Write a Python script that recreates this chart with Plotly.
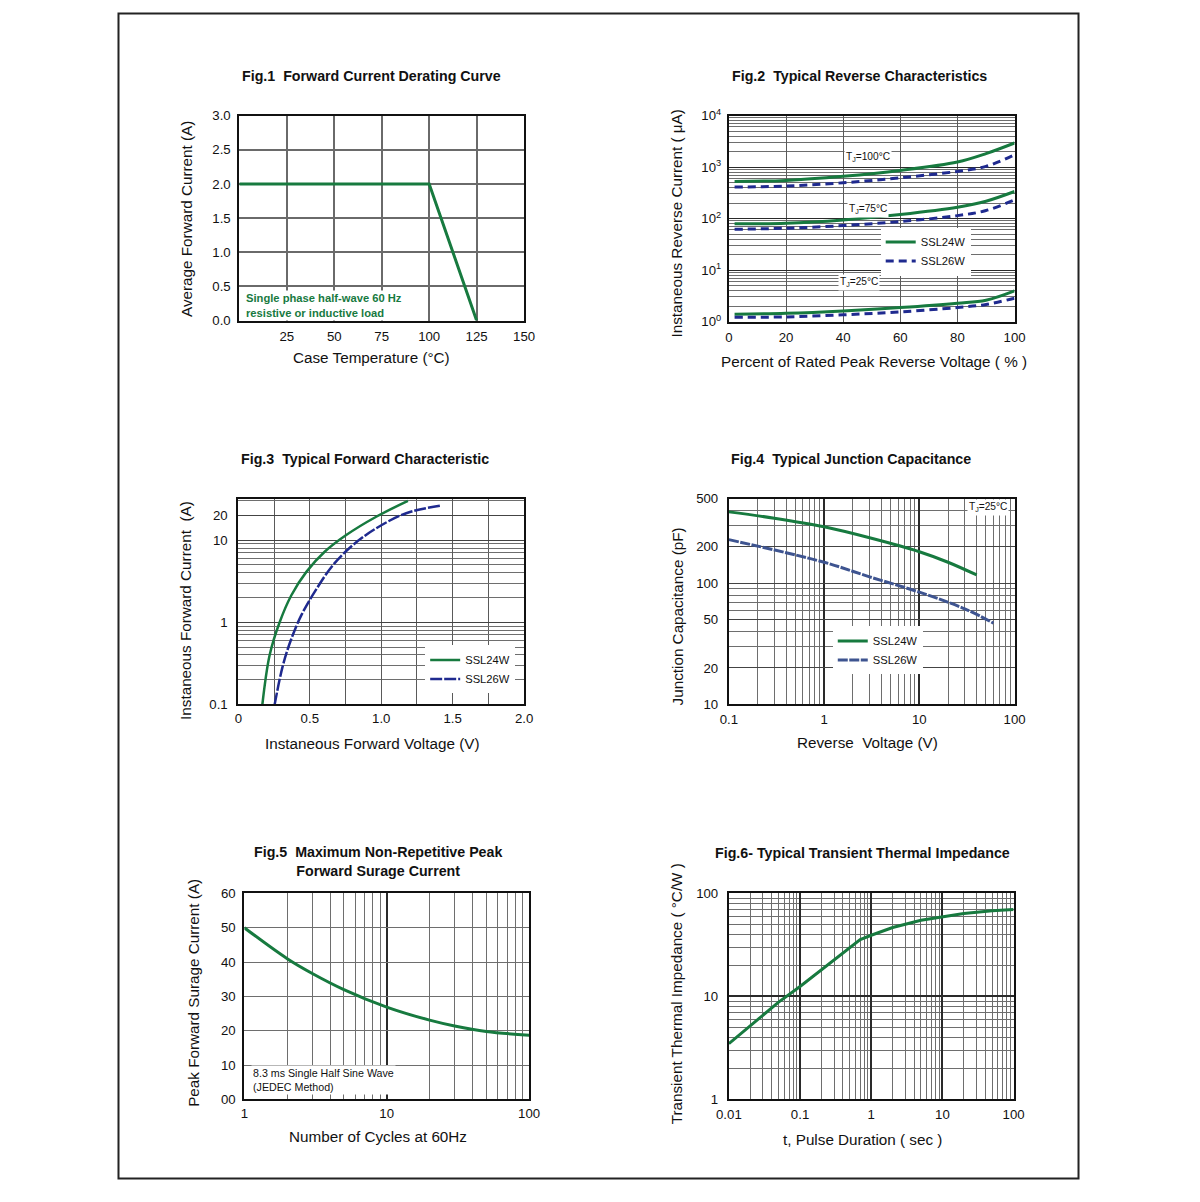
import plotly.graph_objects as go

FW, FH = 1200, 1202
# the photographed page comes out slightly shrunk about its centre; pre-compensate
SX, SY, CX, CY = 0.981, 0.986, 600.0, 601.0
K = 1 / 0.983  # size compensation for fonts

# ---------------- data ----------------
# Fig.1 Forward current derating
f1_temp = [0, 100, 125]
f1_current = [2.0, 2.0, 0.0]
f1_xticks = [25, 50, 75, 100, 125, 150]
f1_yticks = [0.0, 0.5, 1.0, 1.5, 2.0, 2.5, 3.0]

# Fig.2 Typical reverse characteristics (uA)
f2_pct = [2, 20, 40, 60, 80, 90, 100]
f2_24w_100 = [526, 550, 660, 860, 1250, 1820, 2930]
f2_26w_100 = [408, 427, 495, 620, 824, 1030, 1740]
f2_24w_75 = [79, 81, 94, 120, 166, 217, 335]
f2_26w_75 = [62, 65, 73, 87.5, 114, 143, 230]
f2_24w_25 = [1.39, 1.45, 1.61, 1.87, 2.27, 2.6, 3.95]
f2_26w_25 = [1.21, 1.23, 1.35, 1.54, 1.87, 2.14, 2.84]
f2_xticks = [0, 20, 40, 60, 80, 100]
f2_yticks = [1, 10, 100, 1000, 10000]
f2_yticktext = ["10<sup>0</sup>", "10<sup>1</sup>", "10<sup>2</sup>", "10<sup>3</sup>", "10<sup>4</sup>"]

# Fig.3 Typical forward characteristic
f3_v_24 = [0.168, 0.219, 0.289, 0.371, 0.476, 0.604, 0.755, 0.965, 1.187]
f3_i_24 = [0.1, 0.40, 1.0, 2.13, 4.1, 7.2, 11.5, 19.2, 29.9]
f3_v_26 = [0.254, 0.312, 0.371, 0.441, 0.534, 0.662, 0.802, 0.965, 1.175, 1.413]
f3_i_26 = [0.1, 0.30, 0.63, 1.22, 2.34, 4.95, 8.7, 13.9, 21.2, 26.2]
f3_xticks = [0, 0.5, 1.0, 1.5, 2.0]
f3_xticktext = ["0", "0.5", "1.0", "1.5", "2.0"]
f3_yticks = [0.1, 1, 10, 20]

# Fig.4 Typical junction capacitance
f4_v_24 = [0.1, 0.3, 1, 3, 10, 20, 40]
f4_c_24 = [388, 344, 292, 237, 182, 149, 117]
f4_v_26 = [0.1, 1, 3, 10, 30, 60]
f4_c_26 = [229, 149, 113, 84.4, 61.5, 46.9]
f4_xticks = [0.1, 1, 10, 100]
f4_yticks = [10, 20, 50, 100, 200, 500]

# Fig.5 Maximum non-repetitive peak forward surge current
f5_cycles = [1, 2, 3, 5, 10, 20, 30, 50, 100]
f5_current = [50, 41, 36.7, 32, 26.9, 23.1, 21.4, 19.8, 18.7]
f5_xticks = [1, 10, 100]
f5_yticks = [0, 10, 20, 30, 40, 50, 60]
f5_yticktext = ["00", "10", "20", "30", "40", "50", "60"]

# Fig.6 Typical transient thermal impedance
f6_t = [0.01, 0.02, 0.05, 0.1, 0.2, 0.5, 0.7, 1, 2, 5, 10, 20, 50, 100]
f6_z = [3.48, 5.15, 8.8, 12.5, 18.3, 30.0, 35.7, 39.3, 46.7, 55, 59.3, 63.9, 67.8, 69.9]
f6_xticks = [0.01, 0.1, 1, 10, 100]
f6_xticktext = ["0.01", "0.1", "1", "10", "100"]
f6_yticks = [1, 10, 100]

# ---------------- style ----------------
FONT = "Arial, Liberation Sans, sans-serif"
GREEN = "#177a3f"
BLUE = "#1f2a8f"
BLUE4 = "#3e5490"
MAJ = "#2a2a2a"
MIN = "#6e6e6e"


def fx(px):
    return (CX + (px - CX) / SX) / FW


def fy(py):
    return 1 - (CY + (py - CY) / SY) / FH


def px_x(a, b):
    return [fx(a), fx(b)]


def px_y(top, bottom):
    return [fy(bottom), fy(top)]


def fs(v):
    return round(v * K, 2)


def log_minor(e0, e1, extra=()):
    vals = [m * 10 ** e for e in range(e0, e1) for m in range(2, 10)]
    return vals + list(extra)


fig = go.Figure()

# Fig 1
fig.add_trace(go.Scatter(x=f1_temp, y=f1_current, mode="lines",
                         line=dict(color=GREEN, width=3), showlegend=False,
                         xaxis="x", yaxis="y"))
# Fig 2
for ys, col, dash, name, show in [
    (f2_24w_100, GREEN, "solid", "SSL24W", True),
    (f2_26w_100, BLUE, "8px,5px", "SSL26W", True),
    (f2_24w_75, GREEN, "solid", "SSL24W", False),
    (f2_26w_75, BLUE, "8px,5px", "SSL26W", False),
    (f2_24w_25, GREEN, "solid", "SSL24W", False),
    (f2_26w_25, BLUE, "8px,5px", "SSL26W", False),
]:
    fig.add_trace(go.Scatter(x=f2_pct, y=ys, mode="lines", name=name,
                             line=dict(color=col, width=3, dash=dash, shape="spline"),
                             showlegend=show, legend="legend",
                             xaxis="x2", yaxis="y2"))
# Fig 3
fig.add_trace(go.Scatter(x=f3_v_24, y=f3_i_24, mode="lines", name="SSL24W",
                         line=dict(color=GREEN, width=2.5, shape="spline"),
                         legend="legend2", xaxis="x3", yaxis="y3"))
fig.add_trace(go.Scatter(x=f3_v_26, y=f3_i_26, mode="lines", name="SSL26W",
                         line=dict(color=BLUE, width=2.5, dash="12px,2px", shape="spline"),
                         legend="legend2", xaxis="x3", yaxis="y3"))
# Fig 4
fig.add_trace(go.Scatter(x=f4_v_24, y=f4_c_24, mode="lines", name="SSL24W",
                         line=dict(color=GREEN, width=3, shape="spline"),
                         legend="legend3", xaxis="x4", yaxis="y4"))
fig.add_trace(go.Scatter(x=f4_v_26, y=f4_c_26, mode="lines", name="SSL26W",
                         line=dict(color=BLUE4, width=3, dash="10px,1.5px", shape="spline"),
                         legend="legend3", xaxis="x4", yaxis="y4"))
# Fig 5
fig.add_trace(go.Scatter(x=f5_cycles, y=f5_current, mode="lines",
                         line=dict(color=GREEN, width=3, shape="spline"), showlegend=False,
                         xaxis="x5", yaxis="y5"))
# Fig 6
fig.add_trace(go.Scatter(x=f6_t, y=f6_z, mode="lines",
                         line=dict(color=GREEN, width=3), showlegend=False,
                         xaxis="x6", yaxis="y6"))

tickfont = dict(family=FONT, size=fs(13), color="#111")


def ax(domain, anchor, **kw):
    d = dict(domain=domain, anchor=anchor, showline=True, mirror=True,
             linecolor="#111", linewidth=2, ticks="", zeroline=False,
             tickfont=tickfont, showgrid=True, gridwidth=1.3)
    d.update(kw)
    return d


layout = dict(
    width=FW, height=FH, margin=dict(l=0, r=0, t=0, b=0),
    paper_bgcolor="white", plot_bgcolor="white",
    font=dict(family=FONT, color="#111"),
)

# Fig1 axes
layout["xaxis"] = ax(px_x(238, 523), "y", range=[0, 150], tickmode="array",
                     tickvals=f1_xticks, gridcolor="#6a6a6a", gridwidth=1.6,
                     ticklabelstandoff=3)
layout["yaxis"] = ax(px_y(115, 320), "x", range=[0, 3], tickmode="array",
                     tickvals=f1_yticks, tickformat=".1f", gridcolor="#6a6a6a",
                     gridwidth=1.6, ticklabelstandoff=4)
# Fig2
layout["xaxis2"] = ax(px_x(728, 1014), "y2", range=[0, 100], tickmode="array",
                      tickvals=f2_xticks, gridcolor="#5a5a5a", gridwidth=1.4,
                      ticklabelstandoff=3)
layout["yaxis2"] = ax(px_y(115, 321), "x2", type="log", range=[0, 4], tickmode="array",
                      tickvals=f2_yticks, ticktext=f2_yticktext, gridcolor=MAJ,
                      ticklabelstandoff=3,
                      minor=dict(tickmode="array", tickvals=log_minor(0, 4),
                                 showgrid=True, gridcolor=MIN, gridwidth=1))
# Fig3
layout["xaxis3"] = ax(px_x(237, 523), "y3", range=[0, 2], tickmode="array",
                      tickvals=f3_xticks, ticktext=f3_xticktext,
                      gridcolor="#5a5a5a", gridwidth=1.4, ticklabelstandoff=1,
                      minor=dict(tickmode="array", tickvals=[0.25, 0.75, 1.25, 1.75],
                                 showgrid=True, gridcolor="#5a5a5a", gridwidth=1.4))
layout["yaxis3"] = ax(px_y(498, 704), "x3", type="log", range=[-1, 1.505], tickmode="array",
                      tickvals=f3_yticks, ticktext=["0.1", "1", "10", "20"],
                      gridcolor="#444", ticklabelstandoff=6,
                      minor=dict(tickmode="array", tickvals=log_minor(-1, 1, [30]),
                                 showgrid=True, gridcolor=MIN, gridwidth=1))
# Fig4
layout["xaxis4"] = ax(px_x(728, 1014), "y4", type="log", range=[-1, 2], tickmode="array",
                      tickvals=f4_xticks, ticktext=["0.1", "1", "10", "100"],
                      gridcolor=MAJ, gridwidth=1.6, ticklabelstandoff=2,
                      minor=dict(tickmode="array", tickvals=log_minor(-1, 2),
                                 showgrid=True, gridcolor=MIN, gridwidth=1))
layout["yaxis4"] = ax(px_y(498, 704), "x4", type="log", range=[1, 2.699], tickmode="array",
                      tickvals=f4_yticks, ticktext=[str(v) for v in f4_yticks],
                      gridcolor="#444", ticklabelstandoff=6,
                      minor=dict(tickmode="array", tickvals=[30, 40, 60, 70, 80, 90, 300, 400],
                                 showgrid=True, gridcolor=MIN, gridwidth=1))
# Fig5
layout["xaxis5"] = ax(px_x(243, 528), "y5", type="log", range=[0, 2], tickmode="array",
                      tickvals=f5_xticks, ticktext=["1", "10", "100"],
                      gridcolor=MAJ, gridwidth=1.6, ticklabelstandoff=1,
                      minor=dict(tickmode="array", tickvals=log_minor(0, 2),
                                 showgrid=True, gridcolor=MIN, gridwidth=1))
layout["yaxis5"] = ax(px_y(893, 1099), "x5", range=[0, 60], tickmode="array",
                      tickvals=f5_yticks, ticktext=f5_yticktext, gridcolor=MIN,
                      gridwidth=1.2, ticklabelstandoff=4)
# Fig6
layout["xaxis6"] = ax(px_x(728, 1013), "y6", type="log", range=[-2, 2], tickmode="array",
                      tickvals=f6_xticks, ticktext=f6_xticktext,
                      gridcolor=MAJ, gridwidth=1.6, ticklabelstandoff=2,
                      minor=dict(tickmode="array", tickvals=log_minor(-2, 2),
                                 showgrid=True, gridcolor=MIN, gridwidth=1))
layout["yaxis6"] = ax(px_y(893, 1099), "x6", type="log", range=[0, 2], tickmode="array",
                      tickvals=f6_yticks, ticktext=["1", "10", "100"],
                      gridcolor=MAJ, gridwidth=1.6, ticklabelstandoff=6,
                      minor=dict(tickmode="array", tickvals=log_minor(0, 2),
                                 showgrid=True, gridcolor=MIN, gridwidth=1))

legfont = dict(family=FONT, size=fs(11), color="#111")
layout["legend"] = dict(x=fx(880), y=fy(227), xanchor="left", yanchor="top",
                        bgcolor="white", font=legfont, itemwidth=30,
                        tracegroupgap=0)
layout["legend2"] = dict(x=fx(424), y=fy(645), xanchor="left", yanchor="top",
                         bgcolor="white", font=legfont, itemwidth=30)
layout["legend3"] = dict(x=fx(832), y=fy(626), xanchor="left", yanchor="top",
                         bgcolor="white", font=legfont, itemwidth=30)

fig.update_layout(**layout)


def ann(text, x, y, size=14, bold=False, angle=0, color="#111", bg=None,
        xanchor="center", align="center"):
    t = f"<b>{text}</b>" if bold else text
    d = dict(text=t, x=fx(x), y=fy(y), xref="paper", yref="paper",
             showarrow=False, textangle=angle, xanchor=xanchor, yanchor="middle",
             align=align, font=dict(family=FONT, size=fs(size), color=color))
    if bg:
        d.update(bgcolor=bg, borderpad=1)
    fig.add_annotation(**d)


# titles
ann("Fig.1  Forward Current Derating Curve", 370, 75, bold=True)
ann("Fig.2  Typical Reverse Characteristics", 859, 75, bold=True)
ann("Fig.3  Typical Forward Characteristic", 364, 458, bold=True)
ann("Fig.4  Typical Junction Capacitance", 850, 458, bold=True)
ann("Fig.5  Maximum Non-Repetitive Peak<br>Forward Surage Current", 377, 861, bold=True)
ann("Fig.6- Typical Transient Thermal Impedance", 862, 853, bold=True)

# axis titles
AT = 15
ann("Case Temperature (°C)", 370, 357, size=AT)
ann("Average Forward Current (A)", 185, 218, size=AT, angle=-90)
ann("Percent of Rated Peak Reverse Voltage ( % )", 873, 361, size=AT)
ann("Instaneous Reverse Current ( μA)", 676, 223, size=AT, angle=-90)
ann("Instaneous Forward Voltage (V)", 371, 743, size=AT)
ann("Instaneous Forward Current  (A)", 184, 610, size=AT, angle=-90)
ann("Reverse  Voltage (V)", 867, 742, size=AT)
ann("Junction Capacitance (pF)", 677, 616, size=AT, angle=-90)
ann("Number of Cycles at 60Hz", 377, 1136, size=AT)
ann("Peak Forward Surage Current (A)", 192, 992, size=AT, angle=-90)
ann("t, Pulse Duration ( sec )", 862, 1139, size=AT)
ann("Transient Thermal Impedance ( °C/W )", 676, 993, size=AT, angle=-90)

# notes
ann("Single phase half-wave 60 Hz<br>resistive or inductive load", 243, 305, size=11,
    bold=True, color=GREEN, bg="white", xanchor="left", align="left")
ann("T<sub>J</sub>=100°C", 867, 157, size=10, bg="white")
ann("T<sub>J</sub>=75°C", 867, 209, size=10, bg="white")
ann("T<sub>J</sub>=25°C", 858, 282, size=10, bg="white")
ann("T<sub>J</sub>=25°C", 987, 507, size=10, bg="white")
ann("8.3 ms Single Half Sine Wave<br>(JEDEC Method)", 250, 1080, size=10.5,
    bg="white", xanchor="left", align="left")

# outer frame
fig.add_shape(type="rect", xref="paper", yref="paper",
              x0=fx(117), x1=fx(1078), y0=fy(1178), y1=fy(13),
              line=dict(color="#222", width=2))

fig.write_html("out.html", config={"displayModeBar": False},
               post_script="document.body.style.margin='0';")
